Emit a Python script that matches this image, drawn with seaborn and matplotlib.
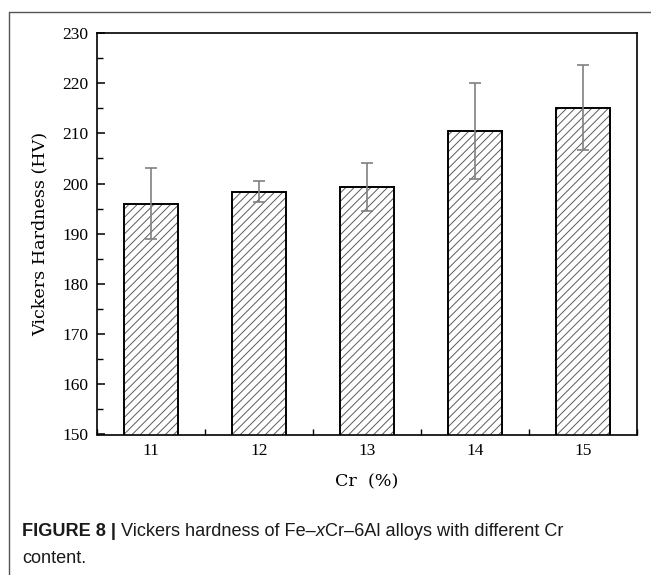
import matplotlib
matplotlib.use('Agg')
import matplotlib.pyplot as plt
import seaborn as sns
import pandas as pd
from matplotlib.ticker import MultipleLocator
from matplotlib.lines import Line2D

# ---- data ----
cr_content = [11, 12, 13, 14, 15]
hardness = [196.0, 198.4, 199.3, 210.5, 215.1]
hardness_err = [7.1, 2.1, 4.8, 9.5, 8.5]
y_ticks = [150, 160, 170, 180, 190, 200, 210, 220, 230]

sns.set_theme(style='ticks')
plt.rcParams['font.family'] = ['Liberation Serif', 'DejaVu Serif']
plt.rcParams['text.color'] = 'black'
plt.rcParams['axes.labelcolor'] = 'black'
plt.rcParams['xtick.color'] = 'black'
plt.rcParams['ytick.color'] = 'black'
plt.rcParams['hatch.linewidth'] = 0.7

df = pd.DataFrame({'cr': cr_content, 'hv': hardness})

fig = plt.figure(figsize=(6.51, 5.75), dpi=100)
W, H = 651, 575
ax = fig.add_axes([97 / W, 1 - 434.5 / H, (637 - 97) / W, (434.5 - 33) / H])

# hatched fill (grey hatch)
sns.barplot(data=df, x='cr', y='hv', native_scale=True, width=0.5,
            color='white', edgecolor='#5a5a5a', linewidth=0, hatch='////',
            errorbar=None, ax=ax, zorder=2)
# black outline
sns.barplot(data=df, x='cr', y='hv', native_scale=True, width=0.5,
            fill=False, color='black', linewidth=1.4,
            errorbar=None, ax=ax, zorder=3)

ax.errorbar(df['cr'], df['hv'], yerr=hardness_err, fmt='none',
            ecolor='#808080', elinewidth=1.2, capsize=4.5, capthick=1.2, zorder=4)

ax.set_xlim(10.5, 15.5)
ax.set_ylim(150, 230)
ax.set_yticks(y_ticks)
ax.set_xticks(cr_content)
ax.set_xticklabels([str(c) for c in cr_content])
ax.yaxis.set_minor_locator(MultipleLocator(5))
ax.xaxis.set_minor_locator(MultipleLocator(0.5))

for s in ax.spines.values():
    s.set_visible(True)
    s.set_color('black')
    s.set_linewidth(1.2)

ax.tick_params(which='major', direction='in', length=6, width=1.1,
               left=True, bottom=True, top=False, right=False,
               labelsize=12.5, pad=6)
ax.tick_params(which='minor', direction='in', length=4, width=1.0,
               left=True, bottom=True, top=False, right=False)

ax.set_xlabel('Cr  (%)', fontfamily='DejaVu Serif', fontsize=12.6, labelpad=10.5)
ax.set_ylabel('Vickers Hardness (HV)', fontfamily='DejaVu Serif', fontsize=12.6, labelpad=10)

# frame lines of the figure panel
fig.add_artist(Line2D([9 / W, 1], [1 - 12 / H, 1 - 12 / H], transform=fig.transFigure,
                      color='#555555', lw=1.0))
fig.add_artist(Line2D([9 / W, 9 / W], [1 - 12 / H, 0], transform=fig.transFigure,
                      color='#555555', lw=1.0))

# caption
cap_font = ['Liberation Sans Narrow', 'Liberation Sans', 'DejaVu Sans']
cap_size = 13.1
t0 = fig.text(22 / W, 1 - 536 / H, 'FIGURE 8 |', fontfamily=cap_font, fontweight='bold',
              fontsize=cap_size, va='baseline', ha='left', color='#1a1a1a')
pieces = [(' Vickers hardness of Fe\u2013', 'normal'), ('x', 'italic'),
          ('Cr\u20136Al alloys with different Cr', 'normal')]
prev = t0
for txt, style in pieces:
    prev = ax.annotate(txt, xy=(1, 0), xycoords=prev, va='bottom', ha='left',
                       fontfamily=cap_font, fontsize=cap_size, fontstyle=style,
                       color='#1a1a1a', annotation_clip=False)
fig.text(22 / W, 1 - 563 / H, 'content.', fontfamily=cap_font, fontsize=cap_size,
         va='baseline', ha='left', color='#1a1a1a')

fig.savefig('out.png', dpi=100)
